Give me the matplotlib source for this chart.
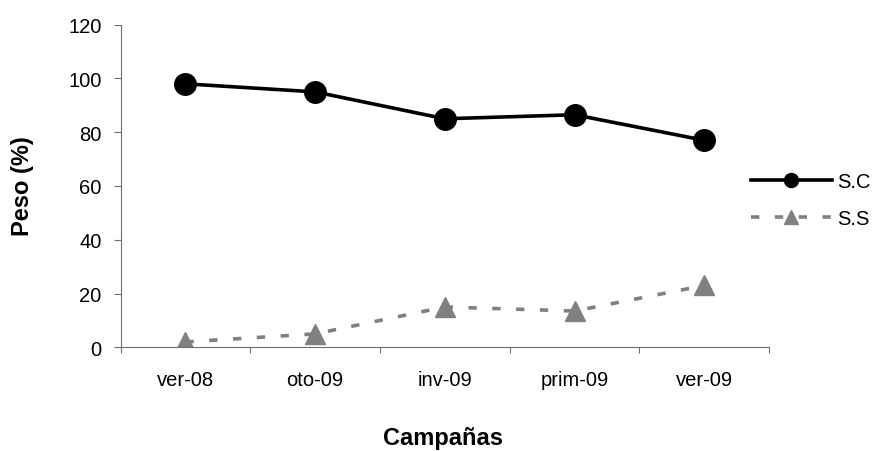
'''
Peso (%) por campaña para S.C y S.S.
'''

import numpy as np
from matplotlib import pyplot as plt

plt.rcParams['font.family'] = ['Liberation Sans', 'DejaVu Sans']

campanas = ['ver-08', 'oto-09', 'inv-09', 'prim-09', 'ver-09']
peso_sc = [98, 95, 85, 86.5, 77]
peso_ss = [2, 5, 15, 13.5, 23]

x = np.arange(len(campanas))
gris = '#808080'
eje = '#6e6e6e'

fig = plt.figure(figsize=(8.74, 4.52), dpi=100)
ax = fig.add_axes([0.138, 0.2294, 0.742, 0.7138])

ax.plot(x, peso_sc, c='black', lw=2.6, marker='o', ms=15.5, label='S.C')
ax.plot(x, peso_ss, c=gris, lw=2.6, marker='^', ms=15, mec=gris,
        dashes=(2.3, 4.3), label='S.S')

ax.set_xlim(-0.5, len(campanas) - 0.5)
ax.set_ylim(0, 120)
ax.set_yticks(np.arange(0, 121, 20))

# labels in the middle of each category, tick marks on the boundaries
ax.set_xticks(x)
ax.set_xticklabels(campanas)
ax.set_xticks(np.arange(len(campanas) + 1) - 0.5, minor=True)
ax.tick_params(axis='x', which='major', length=0, pad=16.5, labelsize=14.5)
ax.tick_params(axis='x', which='minor', length=4.5, width=0.8, color=eje)
ax.tick_params(axis='y', length=5, width=0.8, color=eje, pad=8.6, labelsize=14.5)

for s in ['top', 'right']:
    ax.spines[s].set_visible(False)
for s in ['left', 'bottom']:
    ax.spines[s].set_color(eje)
    ax.spines[s].set_linewidth(0.8)

fig.text(0.026, 1 - 186 / 452, 'Peso (%)', rotation=90, ha='center', va='center',
         fontsize=17, fontweight='bold')
fig.text(0.507, 1 - 439 / 452, 'Campañas', ha='center', va='center',
         fontsize=17, fontweight='bold')

fig.legend(loc='center left', bbox_to_anchor=(751 / 874, 1 - 201 / 452),
           frameon=False, fontsize=14.5, handlelength=4.0, handletextpad=0.3,
           borderpad=0, borderaxespad=0, labelspacing=0.9, markerscale=0.65)

fig.savefig('out.png', dpi=100)
